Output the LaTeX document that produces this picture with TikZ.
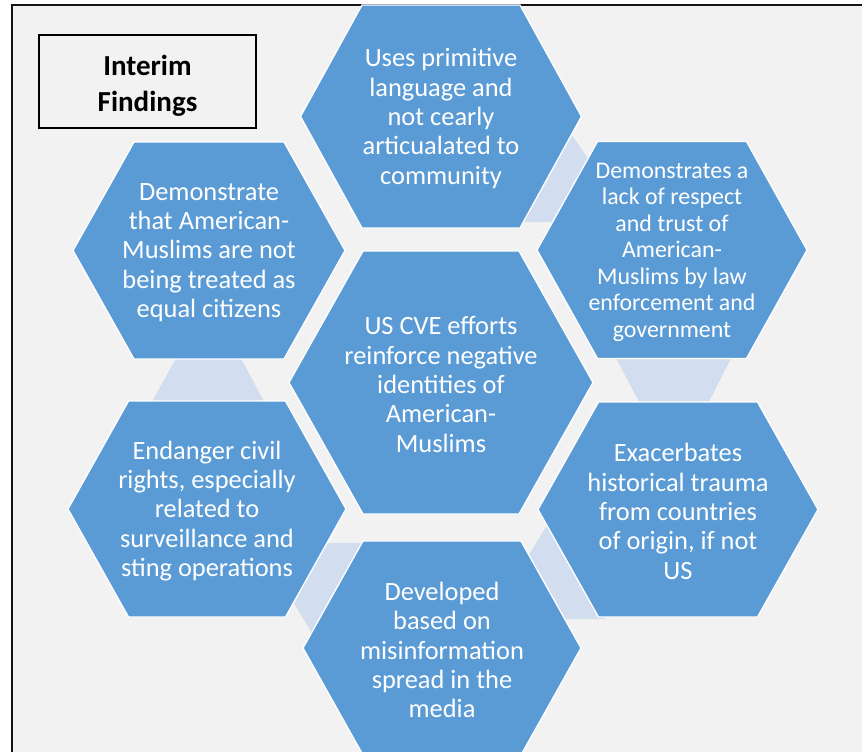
\documentclass[tikz,border=0pt]{standalone}
\usepackage{fontspec}
\setmainfont{Carlito}
\definecolor{hexblue}{RGB}{91,155,213}
\definecolor{linkblue}{RGB}{210,222,239}
\definecolor{bggray}{RGB}{242,242,242}
\definecolor{framecol}{RGB}{20,20,20}
\tikzset{
  hexstyle/.style={fill=hexblue, draw=white, line width=1.3pt, line join=miter},
  linkstyle/.style={fill=linkblue},
  hextext/.style={text=white, align=center, inner sep=0pt, yshift=-2pt, font=\fontsize{26.4}{29.3}\selectfont},
  hextextsmall/.style={hextext, font=\fontsize{23.9}{26.5}\selectfont},
  titlebox/.style={draw=black, line width=1.5pt, fill=bggray},
  titletext/.style={text=black, align=center, font=\bfseries\fontsize{29}{36.5}\selectfont}
}
% centre x, centre y, half width, half top width, half height
\newcommand{\hexagonat}[5]{%
  \draw[hexstyle] (#1-#3,#2) -- (#1-#4,#2-#5) -- (#1+#4,#2-#5) -- (#1+#3,#2)
    -- (#1+#4,#2+#5) -- (#1-#4,#2+#5) -- cycle;}
\begin{document}
\begin{tikzpicture}[x=1pt,y=-1pt]
\useasboundingbox (0,0) rectangle (862,752);
\fill[white] (0,0) rectangle (862,752);
\fill[bggray] (12,5) rectangle (862,752);
\draw[framecol, line width=2pt] (12,752) -- (12,5) -- (862,5);

% connectors (drawn behind the hexagons)
\fill[linkstyle] (565,125) -- (620,205) -- (580,222) -- (515,222) -- cycle;
\fill[linkstyle] (176.7,357) -- (240.3,357) -- (264.8,403) -- (151.2,403) -- cycle;
\fill[linkstyle] (615.3,357) -- (731.7,357) -- (708.3,403) -- (639.7,403) -- cycle;
\fill[linkstyle] (555,512) -- (524,563) -- (560,619) -- (605,619) -- cycle;
\fill[linkstyle] (320,543) -- (375,543) -- (322,650) -- (289,595) -- cycle;

% hexagons
\hexagonat{441}{116.5}{140.5}{79}{111.5}
\hexagonat{209}{250.5}{136}{75}{108.5}
\hexagonat{672}{250}{135}{74.5}{108.5}
\hexagonat{441}{382.5}{152}{78}{131.5}
\hexagonat{207}{509}{139}{78.5}{108}
\hexagonat{678}{509.5}{140}{79.5}{107.5}
\hexagonat{442}{648}{139}{79}{107}

% texts
\node[hextext] (top) at (441,116.5) {Uses primitive\\language and\\not cearly\\articualated to\\community};
\node[hextext] (upleft) at (209,250.5) {Demonstrate\\that American-\\Muslims are not\\being treated as\\equal citizens};
\node[hextextsmall] (upright) at (672,250) {Demonstrates a\\lack of respect\\and trust of\\American-\\Muslims by law\\enforcement and\\government};
\node[hextext] (centre) at (441,382.5) {US CVE efforts\\reinforce negative\\identities of\\American-\\Muslims};
\node[hextext] (lowleft) at (207,509) {Endanger civil\\rights, especially\\related to\\surveillance and\\sting operations};
\node[hextext] (lowright) at (678,509.5) {Exacerbates\\historical trauma\\from countries\\of origin, if not\\US};
\node[hextext] (bottom) at (442,648) {Developed\\based on\\misinformation\\spread in the\\media};

% title box
\draw[titlebox] (39,35) rectangle (256,128);
\node[titletext] (title) at (147.5,86) {Interim\\Findings};
\end{tikzpicture}
\end{document}
